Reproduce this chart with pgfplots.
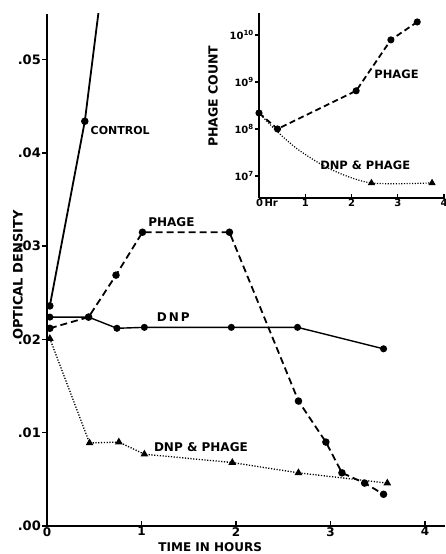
\documentclass[border=0pt]{standalone}
\usepackage{pgfplots}
\pgfplotsset{compat=1.18}
\usepackage{fontspec}
\setmainfont{DejaVu Sans}
\newcommand{\fs}[1]{\bfseries\fontsize{#1}{#1}\selectfont}
\begin{document}
\begin{tikzpicture}[font=\bfseries]
\path[use as bounding box] (-47pt,-28pt) rectangle (398pt,526pt);
\begin{axis}[
  at={(0,0)}, anchor=south west,
  scale only axis, width=398pt, height=512pt,
  xmin=0, xmax=4.21, ymin=0, ymax=0.0549,
  axis lines=left,
  axis line style={line width=2.2pt,-},
  xtick={0,1,2,3,4}, xticklabels={0,1,2,3,4},
  ytick={0,0.01,0.02,0.03,0.04,0.05},
  yticklabels={.00,.01,.02,.03,.04,.05},
  xtick align=inside, ytick align=outside,
  major tick length=5pt,
  tick style={line width=1.5pt,black},
  xticklabel style={font=\fs{12},inner sep=1pt},
  yticklabel style={font=\fs{13},inner sep=1pt},
  xlabel={TIME IN HOURS},
  ylabel={OPTICAL DENSITY},
  xlabel style={at={(axis description cs:0.41,0)},anchor=north,inner sep=0pt,yshift=-16pt,font=\fs{12}},
  ylabel style={at={(axis description cs:0,0.49)},anchor=center,yshift=29pt,inner sep=0pt,font=\fs{13}},
  clip=true,
]
% CONTROL
\addplot[black, line width=1.8pt, mark=*, mark size=2.8pt, mark indices={1,2}]
  coordinates {(0.03,0.0236) (0.40,0.0434) (0.545,0.0551)};
% PHAGE
\addplot[black, line width=1.8pt, dash pattern=on 7pt off 4pt, mark=*, mark size=2.8pt, mark options={solid}]
  coordinates {(0.03,0.0212) (0.44,0.0224) (0.73,0.0269) (1.01,0.0315) (1.93,0.0315)
               (2.66,0.0134) (2.95,0.0090) (3.12,0.0057) (3.36,0.0046) (3.56,0.0034)};
% DNP
\addplot[black, line width=1.4pt, mark=*, mark size=2.8pt]
  coordinates {(0.03,0.0224) (0.44,0.0224) (0.74,0.0212) (1.03,0.0213) (1.95,0.0213)
               (2.65,0.0213) (3.56,0.0190)};
% DNP & PHAGE
\addplot[black, line width=1.3pt, dash pattern=on 1.2pt off 1.6pt, mark=triangle*, mark size=3.2pt, mark options={solid}]
  coordinates {(0.03,0.0201) (0.45,0.0089) (0.76,0.0090) (1.03,0.0077) (1.96,0.0068)
               (2.66,0.0057) (3.60,0.0046)};
\node[anchor=west,font=\fs{11},inner sep=0pt] at (axis cs:0.46,0.0424) {CONTROL};
\node[anchor=west,font=\fs{12},inner sep=0pt] at (axis cs:1.07,0.0326) {PHAGE};
\node[anchor=west,font=\fs{12},inner sep=0pt] at (axis cs:1.16,0.0224) {D\,N\,P};
\node[anchor=west,font=\fs{12},inner sep=0pt] at (axis cs:1.13,0.0085) {DNP \& PHAGE};
\end{axis}
\begin{axis}[
  at={(212pt,328pt)}, anchor=south west,
  scale only axis, width=186pt, height=185pt,
  xmin=0, xmax=4.02, ymode=log, ymin=3.39e6, ymax=2.95e10,
  axis lines=left,
  axis line style={line width=2pt,-},
  xtick={0,1,2,3,4}, xticklabels={\makebox[0.6em][l]{0\,Hr},1,2,3,4},
  ytick={1e7,1e8,1e9,1e10},
  yticklabels={10\textsuperscript{7},10\textsuperscript{8},10\textsuperscript{9},10\textsuperscript{10}},
  xtick align=inside, ytick align=outside,
  major tick length=4pt,
  tick style={line width=1.3pt,black},
  xticklabel style={font=\fs{10},inner sep=1pt},
  yticklabel style={font=\fs{10},inner sep=1pt},
  ylabel={PHAGE COUNT},
  ylabel style={at={(axis description cs:0,0.55)},anchor=center,yshift=46pt,inner sep=0pt,font=\fs{12.5}},
  minor tick num=0, log basis y=10,
  clip=false,
]
% PHAGE count
\addplot[black, line width=1.8pt, dash pattern=on 6pt off 3.5pt, mark=*, mark size=2.6pt, mark options={solid}]
  coordinates {(0,2.19e8) (0.40,1.0e8) (2.10,6.5e8) (2.85,7.9e9) (3.42,1.9e10)};
% DNP & PHAGE count
\addplot[black, line width=1.2pt, dash pattern=on 1.1pt off 1.6pt, smooth, mark=triangle*, mark size=3pt, mark options={solid}, mark indices={5,6}]
  coordinates {(0,2.19e8) (0.40,8.7e7) (0.87,3.5e7) (1.57,1.35e7) (2.43,7.1e6) (3.74,7.1e6)};
\node[anchor=west,font=\fs{11.5},inner sep=0pt] at (axis cs:2.49,1.48e9) {PHAGE};
\node[anchor=west,font=\fs{11.5},inner sep=0pt] at (axis cs:1.32,1.7e7) {DNP \& PHAGE};
\end{axis}
\end{tikzpicture}
\end{document}
